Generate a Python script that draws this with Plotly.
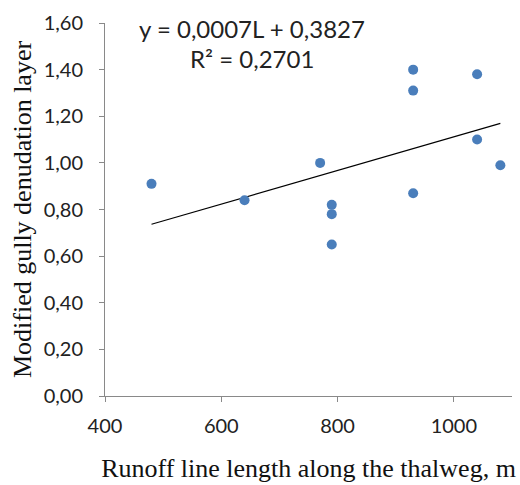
import numpy as np
import plotly.graph_objects as go

# Runoff line length along the thalweg (m) and modified gully denudation layer
runoff_length = [480, 640, 770, 790, 790, 790, 930, 930, 930, 1040, 1040, 1080]
denudation = [0.91, 0.84, 1.00, 0.82, 0.78, 0.65, 1.40, 1.31, 0.87, 1.38, 1.10, 0.99]

x_ticks = [400, 600, 800, 1000]
x_tick_labels = ["400", "600", "800", "1000"]
y_ticks = [0.0, 0.2, 0.4, 0.6, 0.8, 1.0, 1.2, 1.4, 1.6]

equation_text = "y = 0,0007L + 0,3827"
r2_text = "R² = 0,2701"

# Linear trend fitted to the observations
slope, intercept = np.polyfit(runoff_length, denudation, 1)
trend_x = np.array([min(runoff_length), max(runoff_length)])
trend_y = slope * trend_x + intercept

sans = "Lato, 'Open Sans', sans-serif"
serif = "'Liberation Serif', 'Times New Roman', serif"
axis_grey = "#898989"

fig = go.Figure()
fig.add_trace(go.Scatter(
    x=trend_x, y=trend_y, mode="lines",
    line=dict(color="black", width=1.1),
    hoverinfo="skip", showlegend=False,
))
fig.add_trace(go.Scatter(
    x=runoff_length, y=denudation, mode="markers",
    marker=dict(color="#4A7EBB", size=10),
    showlegend=False,
))

fig.add_annotation(x=652, y=1.577, xref="x", yref="y", text=equation_text,
                   showarrow=False, font=dict(family=sans, size=24, color="#222"))
fig.add_annotation(x=652, y=1.449, xref="x", yref="y", text=r2_text,
                   showarrow=False, font=dict(family=sans, size=24, color="#222"))

fig.update_layout(
    width=520, height=485,
    margin=dict(l=105, r=8, t=23, b=89),
    paper_bgcolor="white", plot_bgcolor="white",
    separators=",.",
    showlegend=False,
)
fig.update_xaxes(
    range=[400, 1100], tickvals=x_ticks, ticktext=x_tick_labels,
    showgrid=False, zeroline=False,
    showline=True, linecolor=axis_grey, linewidth=1,
    ticks="outside", ticklen=5, tickcolor=axis_grey,
    ticklabelstandoff=7,
    tickfont=dict(family=sans, size=20, color="#222"),
    title=dict(text="Runoff line length along the thalweg, m",
               font=dict(family=serif, size=26, color="#111"), standoff=22),
)
fig.update_yaxes(
    range=[0, 1.6], tickvals=y_ticks, tickformat=".2f",
    showgrid=False, zeroline=False,
    showline=True, linecolor=axis_grey, linewidth=1,
    ticks="outside", ticklen=5, tickcolor=axis_grey,
    ticklabelstandoff=12,
    tickfont=dict(family=sans, size=20, color="#222"),
    title=dict(text="Modified gully denudation layer",
               font=dict(family=serif, size=26, color="#111"), standoff=4),
)

fig.write_html("out.html")
